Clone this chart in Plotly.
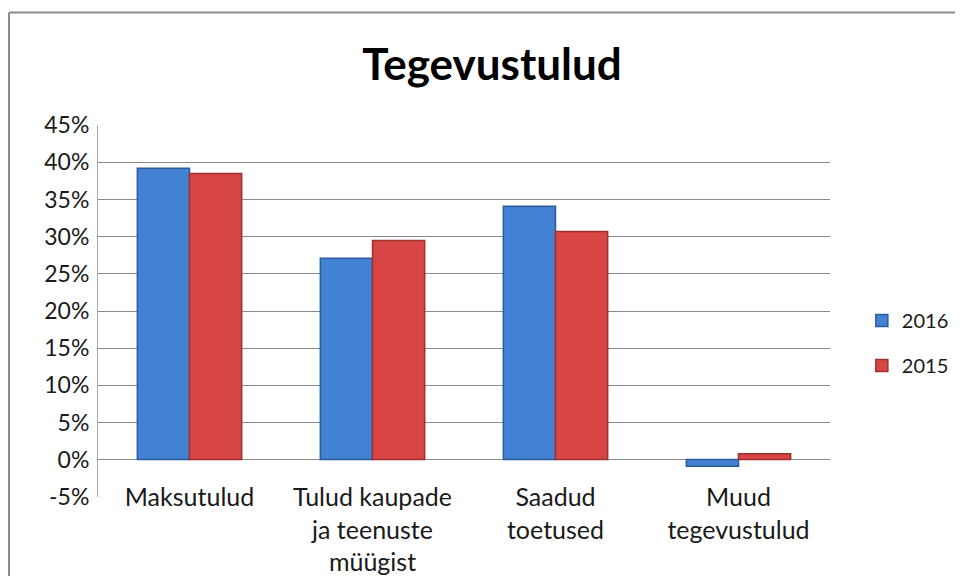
import plotly.graph_objects as go

categories = ["Maksutulud", "Tulud kaupade<br>ja teenuste<br>müügist", "Saadud<br>toetused", "Muud<br>tegevustulud"]
series_2016 = [39.2, 27.1, 34.1, -0.9]
series_2015 = [38.5, 29.5, 30.7, 0.8]
y_tickvals = [-5, 0, 5, 10, 15, 20, 25, 30, 35, 40, 45]
y_ticktext = [f"{v}%" for v in y_tickvals]

FONT = "Lato, Carlito, Calibri, sans-serif"

# figure placed at page offset (8, 8) by the default body margin
W, H = 947, 568
L, T = 90, 117
PW, PH = 732, 372
R, B = W - L - PW, H - T - PH

fig = go.Figure()
fig.add_trace(go.Bar(
    x=categories, y=series_2016, name="2016", legendgroup="a",
    marker=dict(color="#4281D3", line=dict(color="#2C5C9A", width=1.5)),
))
fig.add_trace(go.Bar(
    x=categories, y=series_2015, name="2015", legendgroup="b",
    marker=dict(color="#D84545", line=dict(color="#9E3030", width=1.5)),
))

frame_left = (1 - L) / PW
frame_top = (PH + T - 4.5) / PH

fig.update_layout(
    width=W, height=H,
    margin=dict(l=L, r=R, t=T, b=B, autoexpand=False),
    paper_bgcolor="white", plot_bgcolor="white",
    font=dict(family=FONT, size=22, color="#1a1a1a"),
    title=dict(text="<b>Tegevustulud</b>", x=(492 - 8) / W, xanchor="center",
               y=1 - (65 - 8) / H, yanchor="middle", font=dict(size=44, family=FONT, color="#000")),
    barmode="group", bargap=0.43, bargroupgap=0,
    showlegend=True,
    legend=dict(x=1.0435, xanchor="left", y=0.414, yanchor="middle",
                font=dict(size=20, family=FONT), tracegroupgap=16,
                bgcolor="rgba(0,0,0,0)"),
    xaxis=dict(showgrid=False, showline=False, ticks="", tickfont=dict(size=25),
               ticklabelstandoff=-17, zeroline=False),
    yaxis=dict(range=[-5.03, 45.03], tickvals=y_tickvals, ticktext=y_ticktext,
               showgrid=True, gridcolor="#8a8a8a", gridwidth=1,
               zeroline=True, zerolinecolor="#8a8a8a", zerolinewidth=1,
               showline=True, linecolor="#a6a6a6", linewidth=1,
               ticks="", tickfont=dict(size=23), ticklabelstandoff=3),
    shapes=[
        dict(type="line", xref="paper", yref="paper",
             x0=frame_left, x1=frame_left, y0=-0.6, y1=frame_top,
             line=dict(color="#8c8c8c", width=2), layer="below"),
        dict(type="line", xref="paper", yref="paper",
             x0=frame_left, x1=1.6, y0=frame_top, y1=frame_top,
             line=dict(color="#8c8c8c", width=2), layer="below"),
    ],
)

fig.write_html("out.html")
